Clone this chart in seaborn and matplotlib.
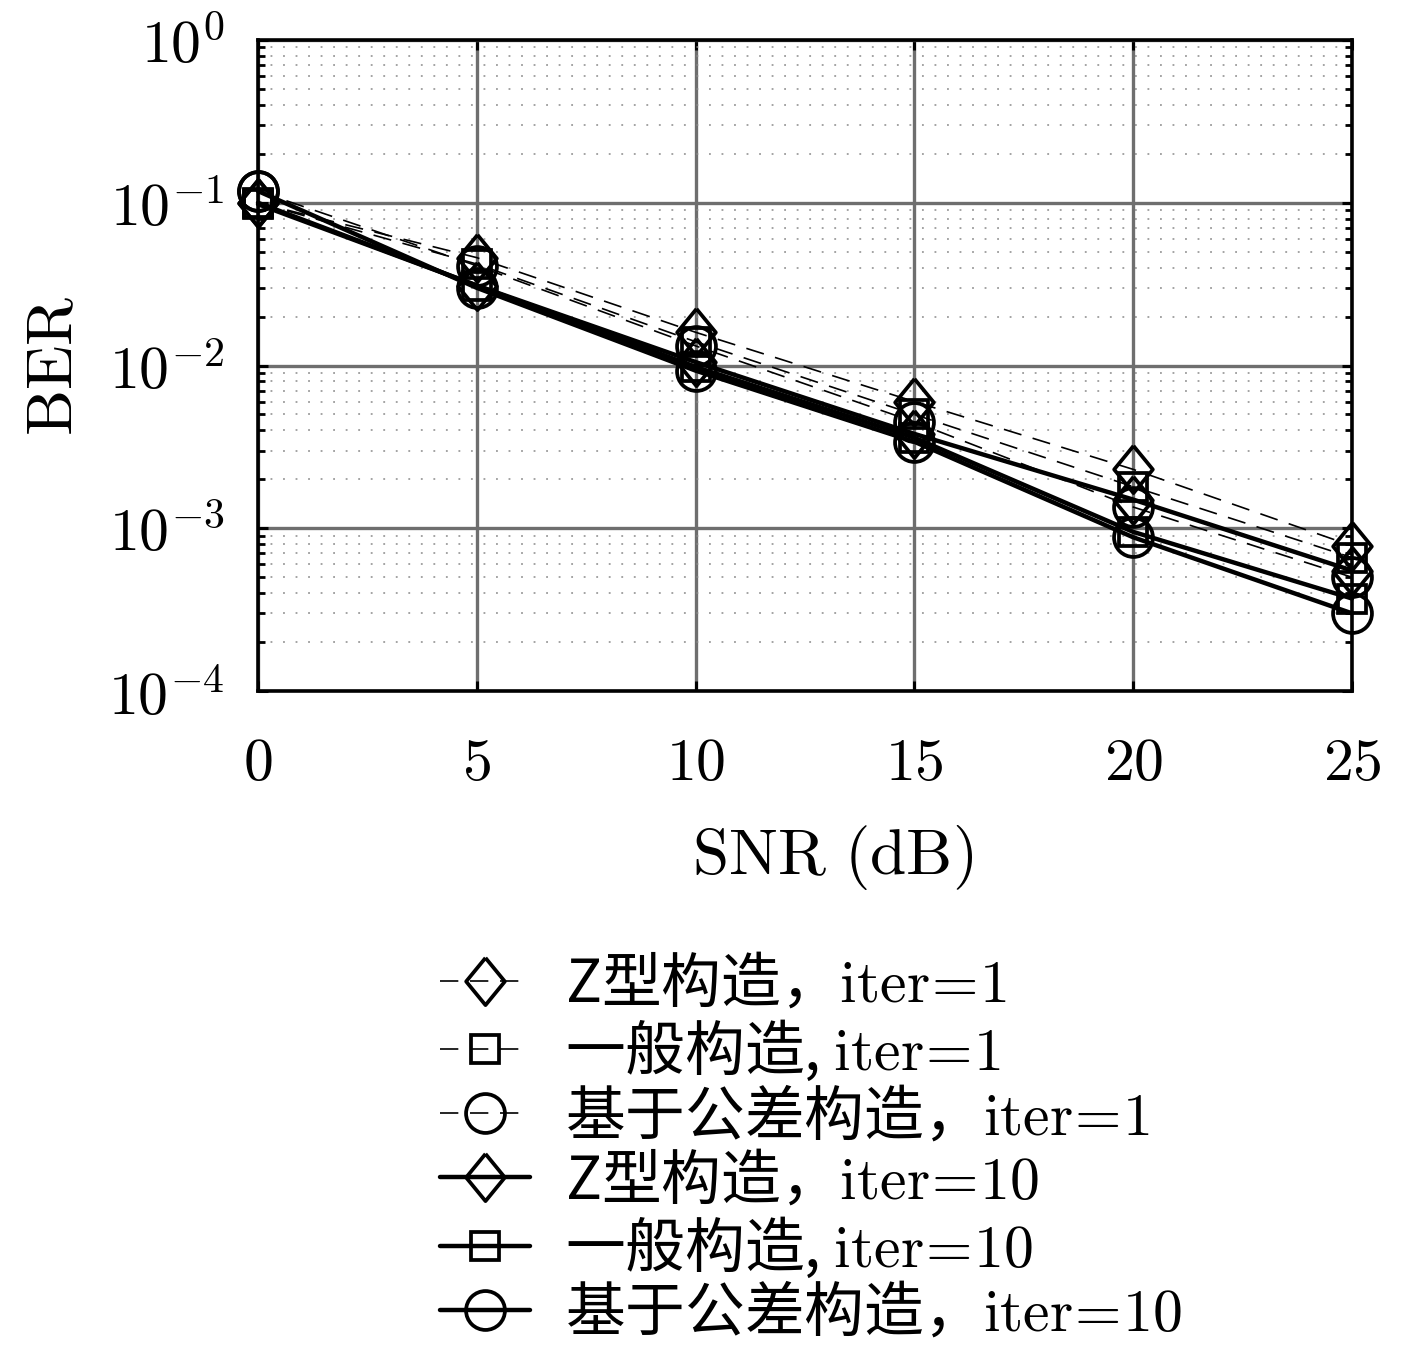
import numpy as np
import pandas as pd
import matplotlib
matplotlib.use("Agg")
import matplotlib.pyplot as plt
import seaborn as sns
from matplotlib.ticker import LogLocator, NullFormatter

# ---------------- data ----------------
snr = [0, 5, 10, 15, 20, 25]
ber_z_iter1 = [0.100, 0.046, 0.0160, 0.0060, 0.0023, 0.00078]
ber_gen_iter1 = [0.100, 0.042, 0.0140, 0.0050, 0.0018, 0.00066]
ber_ap_iter1 = [0.118, 0.041, 0.0132, 0.0045, 0.00135, 0.00050]
ber_z_iter10 = [0.100, 0.031, 0.0105, 0.0038, 0.0015, 0.00055]
ber_gen_iter10 = [0.098, 0.031, 0.0098, 0.0036, 0.00095, 0.00037]
ber_ap_iter10 = [0.118, 0.030, 0.0093, 0.0034, 0.00088, 0.00030]

labels = [
    "Z型构造，$\\mathrm{iter}\\!=\\!1$",
    "一般构造, $\\mathrm{iter}\\!=\\!1$",
    "基于公差构造，$\\mathrm{iter}\\!=\\!1$",
    "Z型构造，$\\mathrm{iter}\\!=\\!10$",
    "一般构造, $\\mathrm{iter}\\!=\\!10$",
    "基于公差构造，$\\mathrm{iter}\\!=\\!10$",
]
series = [ber_z_iter1, ber_gen_iter1, ber_ap_iter1,
          ber_z_iter10, ber_gen_iter10, ber_ap_iter10]

xticks = [0, 5, 10, 15, 20, 25]
xticklabels = ["$0$", "$5$", "$10$", "$15$", "$20$", "$25$"]
yticks = [1e-4, 1e-3, 1e-2, 1e-1, 1e0]
yticklabels = ["$10^{-4}$", "$10^{-3}$", "$10^{-2}$", "$10^{-1}$", "$10^{0}$"]

# ---------------- style ----------------
sns.set_theme(style="white")
plt.rcParams["font.family"] = ["Noto Sans CJK SC", "DejaVu Sans"]
plt.rcParams["mathtext.fontset"] = "cm"
plt.rcParams["axes.unicode_minus"] = False
for key in ["text.color", "axes.labelcolor", "xtick.color", "ytick.color", "axes.edgecolor"]:
    plt.rcParams[key] = "black"

diamond = [(0, 1), (0.82, 0), (0, -1), (-0.82, 0), (0, 1)]
markers = [diamond, "s", "o", diamond, "s", "o"]
msizes = [34, 20, 28, 34, 20, 28]
dashed = (0, (11, 7))
lstyles = [dashed, dashed, dashed, "-", "-", "-"]
lwidths = [1.2, 1.2, 1.2, 3.2, 3.2, 3.2]

fig = plt.figure(figsize=(14.17, 13.51), dpi=100)
ax = fig.add_axes([258 / 1417, 1 - 691 / 1351, (1352 - 258) / 1417, (691 - 40) / 1351])

for vals, lab, mk, ms, ls, lw in zip(series, labels, markers, msizes, lstyles, lwidths):
    df = pd.DataFrame({"snr": snr, "ber": vals})
    sns.lineplot(data=df, x="snr", y="ber", ax=ax, color="black", linestyle=ls, linewidth=lw,
                 marker=mk, markersize=ms, markerfacecolor="none",
                 markeredgecolor="black", markeredgewidth=2.7, label=lab, legend=False,
                 errorbar=None, zorder=5, clip_on=False)

ax.set_yscale("log")
ax.set_xlim(0, 25)
ax.set_ylim(1e-4, 1)
ax.set_xticks(xticks)
ax.set_xticklabels(xticklabels)
ax.set_yticks(yticks)
ax.set_yticklabels(yticklabels)
ax.yaxis.set_minor_locator(LogLocator(base=10, subs=np.arange(2, 10), numticks=20))
ax.yaxis.set_minor_formatter(NullFormatter())

ax.grid(True, which="major", axis="both", color="#6e6e6e", linewidth=2.4, linestyle="-", zorder=0)
ax.grid(True, which="minor", axis="y", color="#8a8a8a", linewidth=1.1, linestyle=(0, (1.2, 7)), zorder=0)
ax.set_axisbelow(True)

for sp in ax.spines.values():
    sp.set_visible(True)
    sp.set_color("black")
    sp.set_linewidth(2.6)
    sp.set_zorder(6)

ax.tick_params(axis="both", which="both", direction="in", top=True, right=True,
               bottom=True, left=True, color="black")
ax.tick_params(axis="both", which="major", length=7, width=2.2, labelsize=43)
ax.tick_params(axis="both", which="minor", length=5, width=2.0)
ax.tick_params(axis="x", which="major", pad=30)
ax.tick_params(axis="y", which="major", pad=24)

ax.set_xlabel("$\\mathrm{SNR\\ (dB)}$", fontsize=47)
ax.xaxis.set_label_coords(0.525, -0.202)
ax.set_ylabel("$\\mathrm{BER}$", fontsize=47, labelpad=15)

handles, labs = ax.get_legend_handles_labels()
leg = fig.legend(handles, labs, loc="upper left", bbox_to_anchor=(440 / 1417, 1 - 955 / 1351),
                 frameon=False, fontsize=43, handlelength=1.5, handletextpad=0.6,
                 labelspacing=0.05, borderpad=0, borderaxespad=0)

fig.savefig("out.png", dpi=100)
